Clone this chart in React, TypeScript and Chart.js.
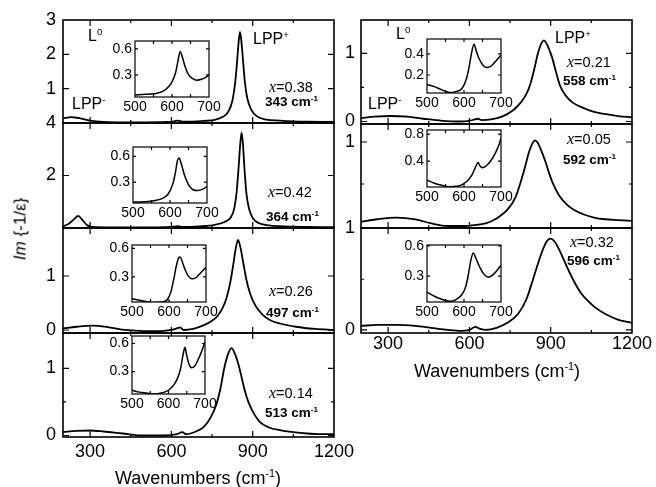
import React, { useEffect, useRef } from "react";
import { Chart, registerables } from "chart.js";
Chart.register(...registerables);

const SANS = "'Liberation Sans', Arial, Helvetica, sans-serif";
const SERIF = "'Liberation Serif', 'Times New Roman', serif";

// ---------- main spectra (Im{-1/eps} vs wavenumber) ----------
const l1X = [200, 230, 260, 300, 350, 400, 500, 580, 610, 625, 640, 680, 720, 760, 790, 810, 825, 835, 842, 848, 853, 858, 864, 871, 880, 895, 915, 950, 1000, 1050, 1100, 1200];
const l1Y = [0.13, 0.17, 0.14, 0.07, 0.03, 0.02, 0.02, 0.03, 0.05, 0.07, 0.04, 0.04, 0.06, 0.09, 0.18, 0.33, 0.65, 1.15, 1.75, 2.35, 2.65, 2.4, 1.85, 1.2, 0.72, 0.38, 0.2, 0.1, 0.07, 0.05, 0.04, 0.03];

const l2X = [200, 220, 240, 256, 272, 290, 320, 400, 500, 580, 610, 625, 640, 700, 760, 800, 820, 832, 841, 848, 854, 859, 864, 870, 877, 886, 900, 920, 960, 1000, 1100, 1200];
const l2Y = [0.07, 0.15, 0.33, 0.46, 0.3, 0.1, 0.03, 0.02, 0.02, 0.03, 0.05, 0.07, 0.04, 0.06, 0.12, 0.25, 0.42, 0.75, 1.4, 2.3, 3.2, 3.63, 3.2, 2.2, 1.3, 0.75, 0.38, 0.2, 0.1, 0.07, 0.04, 0.03];

const l3X = [200, 250, 310, 370, 430, 500, 560, 600, 620, 632, 645, 680, 720, 750, 770, 790, 805, 818, 828, 837, 846, 855, 865, 876, 890, 910, 935, 965, 1000, 1060, 1130, 1200];
const l3Y = [0.03, 0.06, 0.08, 0.05, 0.0, -0.02, -0.02, 0.0, 0.03, 0.05, 0.0, 0.02, 0.09, 0.17, 0.26, 0.42, 0.62, 0.9, 1.2, 1.5, 1.67, 1.52, 1.25, 0.95, 0.68, 0.45, 0.29, 0.18, 0.12, 0.06, 0.02, 0.0];

const l4X = [200, 250, 300, 350, 420, 500, 570, 620, 640, 655, 690, 720, 745, 765, 780, 795, 808, 822, 836, 848, 860, 872, 884, 900, 927, 960, 1000, 1050, 1100, 1150, 1200];
const l4Y = [0.05, 0.07, 0.075, 0.06, 0.03, 0.0, 0.0, 0.02, 0.05, 0.02, 0.06, 0.13, 0.27, 0.45, 0.68, 1.0, 1.2, 1.3, 1.2, 1.05, 0.85, 0.65, 0.5, 0.36, 0.2, 0.12, 0.08, 0.05, 0.03, 0.02, 0.02];

const r1X = [200, 250, 310, 370, 430, 500, 560, 600, 620, 632, 645, 680, 720, 760, 790, 810, 825, 840, 853, 865, 875, 885, 895, 905, 920, 935, 955, 980, 1020, 1060, 1100, 1150, 1200];
const r1Y = [0.05, 0.07, 0.08, 0.07, 0.04, 0.01, 0.0, 0.01, 0.03, 0.04, 0.02, 0.03, 0.07, 0.16, 0.28, 0.4, 0.55, 0.78, 1.0, 1.14, 1.19, 1.14, 1.05, 0.94, 0.72, 0.52, 0.38, 0.28, 0.2, 0.14, 0.11, 0.08, 0.06];

const r2X = [200, 260, 330, 400, 460, 520, 580, 620, 640, 660, 700, 742, 770, 787, 805, 820, 832, 842, 852, 865, 880, 895, 909, 930, 955, 982, 1020, 1060, 1100, 1150, 1200];
const r2Y = [0.05, 0.08, 0.1, 0.08, 0.03, 0.0, 0.0, 0.01, 0.02, 0.03, 0.09, 0.2, 0.34, 0.5, 0.7, 0.88, 0.98, 1.02, 0.99, 0.9, 0.77, 0.62, 0.5, 0.37, 0.27, 0.2, 0.14, 0.1, 0.08, 0.07, 0.06];

const r3X = [200, 260, 330, 400, 460, 520, 570, 600, 622, 640, 660, 700, 740, 780, 810, 835, 855, 872, 887, 900, 915, 930, 950, 982, 1010, 1040, 1070, 1100, 1150, 1200];
const r3Y = [0.04, 0.05, 0.05, 0.04, 0.02, 0.0, -0.01, 0.0, 0.03, 0.01, 0.0, 0.02, 0.07, 0.16, 0.3, 0.5, 0.67, 0.8, 0.88, 0.9, 0.87, 0.8, 0.68, 0.5, 0.37, 0.28, 0.21, 0.16, 0.1, 0.07];

// ---------- insets (L0 region, 500-700 cm-1) ----------
const il1X = [500, 520, 540, 560, 575, 590, 600, 610, 617, 622, 627, 635, 645, 655, 667, 680, 690, 700];
const il1Y = [0.07, 0.075, 0.08, 0.09, 0.11, 0.16, 0.22, 0.33, 0.48, 0.57, 0.52, 0.4, 0.3, 0.26, 0.24, 0.25, 0.27, 0.3];
const il2X = [500, 530, 560, 580, 595, 607, 615, 620, 625, 630, 640, 650, 662, 675, 690, 700];
const il2Y = [0.065, 0.07, 0.085, 0.11, 0.16, 0.27, 0.42, 0.55, 0.58, 0.52, 0.37, 0.27, 0.21, 0.2, 0.22, 0.25];
const il3X = [500, 520, 540, 560, 580, 595, 605, 613, 620, 626, 630, 635, 643, 652, 662, 672, 685, 700];
const il3Y = [0.07, 0.055, 0.04, 0.03, 0.035, 0.06, 0.14, 0.28, 0.42, 0.5, 0.51, 0.47, 0.38, 0.31, 0.28, 0.29, 0.34, 0.4];
const il4X = [500, 520, 540, 560, 580, 600, 615, 625, 633, 640, 645, 650, 656, 663, 672, 685, 695, 700];
const il4Y = [0.1, 0.08, 0.07, 0.06, 0.07, 0.1, 0.16, 0.23, 0.33, 0.48, 0.56, 0.47, 0.38, 0.34, 0.36, 0.46, 0.56, 0.62];
const ir1X = [500, 520, 540, 555, 567, 580, 594, 607, 614, 620, 627, 633, 640, 652, 663, 675, 688, 700];
const ir1Y = [0.11, 0.09, 0.06, 0.04, 0.035, 0.045, 0.07, 0.17, 0.28, 0.4, 0.49, 0.43, 0.36, 0.29, 0.27, 0.29, 0.34, 0.39];
const ir2X = [500, 520, 540, 560, 580, 595, 610, 622, 632, 638, 643, 650, 660, 672, 685, 695, 700];
const ir2Y = [0.12, 0.07, 0.04, 0.02, 0.025, 0.05, 0.11, 0.2, 0.32, 0.38, 0.33, 0.3, 0.33, 0.4, 0.52, 0.65, 0.74];
const ir3X = [500, 520, 540, 562, 580, 595, 605, 612, 618, 625, 632, 640, 652, 666, 680, 692, 700];
const ir3Y = [0.14, 0.1, 0.07, 0.05, 0.07, 0.12, 0.2, 0.32, 0.45, 0.53, 0.48, 0.41, 0.33, 0.29, 0.32, 0.37, 0.41];

// ---------- tick labels ----------
const mainXTicks = [300, 600, 900, 1200];
const mainXMinor = [450, 750, 1050];
const insetXTicks = [500, 600, 700];
const insetXMinor = [550, 650];

// ---------- annotations ----------
const compositions = ["0.38", "0.42", "0.26", "0.14", "0.21", "0.05", "0.32"];
const plasmaFreqs = ["343", "364", "497", "513", "558", "592", "596"];

type PanelProps = {
  box: number[]; // chart area: left, top, width, height
  xr: number[];
  yr: number[];
  xs: number[];
  ys: number[];
  yLabels: number[];
  yMinor: number[];
  xLabels: number[] | null;
  xMajor: number[];
  xMinor: number[];
  font: number;
  pad: number[]; // l t r b
  yPad: number;
  xPad: number;
  tick: number;
  minor: number;
  lw: number;
  fw: number;
  fill?: boolean;
};

function Panel(p: PanelProps) {
  const ref = useRef<HTMLCanvasElement>(null);
  const [L, T, W, H] = p.box;
  const [pl, pt, pr, pb] = p.pad;
  useEffect(() => {
    const framePlugin = {
      id: "frame",
      beforeDraw(chart: any) {
        if (!p.fill) return;
        const a = chart.chartArea;
        const c = chart.ctx;
        c.save();
        c.fillStyle = "#fff";
        c.fillRect(a.left, a.top, a.right - a.left, a.bottom - a.top);
        c.restore();
      },
      afterDatasetsDraw(chart: any) {
        const a = chart.chartArea;
        const c = chart.ctx;
        const sx = chart.scales.x;
        const sy = chart.scales.y;
        c.save();
        c.strokeStyle = "#000";
        c.lineWidth = p.fw;
        c.strokeRect(a.left, a.top, a.right - a.left, a.bottom - a.top);
        c.lineWidth = 1.2;
        c.beginPath();
        const xt = (vals: number[], len: number) => {
          vals.forEach((v) => {
            if (v <= p.xr[0] || v >= p.xr[1]) return;
            const px = sx.getPixelForValue(v);
            c.moveTo(px, a.bottom);
            c.lineTo(px, a.bottom - len);
            c.moveTo(px, a.top);
            c.lineTo(px, a.top + len);
          });
        };
        const yt = (vals: number[], len: number) => {
          vals.forEach((v) => {
            if (v <= p.yr[0] || v >= p.yr[1]) return;
            const py = sy.getPixelForValue(v);
            c.moveTo(a.left, py);
            c.lineTo(a.left + len, py);
            c.moveTo(a.right, py);
            c.lineTo(a.right - len, py);
          });
        };
        xt(p.xMajor, p.tick);
        xt(p.xMinor, p.minor);
        yt(p.yLabels, p.tick);
        yt(p.yMinor, p.minor);
        c.stroke();
        c.restore();
      },
    };
    const showX = !!p.xLabels;
    const chart = new Chart(ref.current as HTMLCanvasElement, {
      type: "line",
      data: {
        datasets: [
          {
            data: p.xs.map((x, i) => ({ x, y: p.ys[i] })),
            borderColor: "#000",
            borderWidth: p.lw,
            pointRadius: 0,
            fill: false,
            cubicInterpolationMode: "monotone",
          },
        ],
      },
      options: {
        animation: false,
        responsive: false,
        devicePixelRatio: 1,
        events: [],
        layout: {
          autoPadding: false,
          padding: { left: 0, top: pt, right: pr, bottom: showX ? 0 : pb },
        },
        plugins: { legend: { display: false }, tooltip: { enabled: false } },
        scales: {
          x: {
            type: "linear",
            min: p.xr[0],
            max: p.xr[1],
            display: showX,
            position: "bottom",
            afterFit: (s: any) => {
              if (showX) s.height = pb;
            },
            afterBuildTicks: (s: any) => {
              s.ticks = (p.xLabels || []).map((v) => ({ value: v }));
            },
            ticks: {
              font: { family: SANS, size: p.font },
              color: "#000",
              padding: p.xPad,
              maxRotation: 0,
              autoSkip: false,
              callback: (v: any) => String(v),
            },
            grid: { display: false, drawTicks: false },
            border: { display: false },
          },
          y: {
            type: "linear",
            min: p.yr[0],
            max: p.yr[1],
            position: "left",
            afterFit: (s: any) => {
              s.width = pl;
            },
            afterBuildTicks: (s: any) => {
              s.ticks = p.yLabels.map((v) => ({ value: v }));
            },
            ticks: {
              font: { family: SANS, size: p.font },
              color: "#000",
              padding: p.yPad,
              autoSkip: false,
              callback: (v: any) => String(v),
            },
            grid: { display: false, drawTicks: false },
            border: { display: false },
          },
        },
      } as any,
      plugins: [framePlugin],
    });
    return () => chart.destroy();
  }, []);
  return (
    <canvas
      ref={ref}
      width={W + pl + pr}
      height={H + pt + pb}
      style={{ position: "absolute", left: L - pl, top: T - pt }}
    />
  );
}

const Sup = ({ children }: { children: any }) => (
  <span style={{ fontSize: "0.6em", position: "relative", top: "-0.65em" }}>{children}</span>
);

const Note = ({ left, top, size, bold, children }: any) => (
  <div
    style={{
      position: "absolute",
      left,
      top,
      fontSize: size,
      lineHeight: 1,
      fontFamily: SANS,
      fontWeight: bold ? "bold" : "normal",
      whiteSpace: "nowrap",
      color: "#000",
    }}
  >
    {children}
  </div>
);

const XLabel = ({ left, top, val }: any) => (
  <Note left={left} top={top} size={14.5}>
    <span style={{ fontFamily: SERIF, fontStyle: "italic", fontSize: "1.1em" }}>x</span>={val}
  </Note>
);

const FLabel = ({ left, top, val }: any) => (
  <Note left={left} top={top} size={13.5} bold>
    {val} cm<Sup>-1</Sup>
  </Note>
);

export default function App() {
  const main = { font: 18, tick: 6, minor: 3, lw: 1.8, fw: 1.6, xMajor: [300, 600, 900], xMinor: mainXMinor };
  const ins = { font: 14, tick: 3, minor: 3, lw: 1.5, fw: 1.2, xMajor: insetXMinor, xMinor: [600], xr: [500, 700], xLabels: insetXTicks, pad: [30, 14, 14, 22], yPad: 3, xPad: 2, yMinor: [], fill: true };
  const lp = [45, 20, 26, 20];
  const rp = [30, 20, 26, 20];
  return (
    <div style={{ position: "fixed", left: 0, top: 0, width: 656, height: 487, background: "#fff", overflow: "hidden" }}>
      {/* left column */}
      <Panel {...main} box={[63, 20, 271, 103]} xr={[200, 1200]} yr={[0, 3]} xs={l1X} ys={l1Y} yLabels={[1, 2, 3]} yMinor={[]} xLabels={null} pad={lp} yPad={7} xPad={4} />
      <Panel {...main} box={[63, 123, 271, 105]} xr={[200, 1200]} yr={[0, 4]} xs={l2X} ys={l2Y} yLabels={[2, 4]} yMinor={[]} xLabels={null} pad={lp} yPad={7} xPad={4} />
      <Panel {...main} box={[63, 228, 271, 105]} xr={[200, 1200]} yr={[-0.056, 1.889]} xs={l3X} ys={l3Y} yLabels={[0, 1]} yMinor={[]} xLabels={null} pad={lp} yPad={7} xPad={4} />
      <Panel {...main} box={[63, 333, 271, 104]} xr={[200, 1200]} yr={[-0.022, 1.525]} xs={l4X} ys={l4Y} yLabels={[0, 1]} yMinor={[0.5]} xLabels={mainXTicks} pad={[45, 20, 26, 30]} yPad={7} xPad={4} />
      {/* right column */}
      <Panel {...main} box={[361, 20, 271, 104]} xr={[200, 1200]} yr={[-0.037, 1.488]} xs={r1X} ys={r1Y} yLabels={[0, 1]} yMinor={[0.5]} xLabels={null} pad={rp} yPad={6} xPad={0} />
      <Panel {...main} box={[361, 124, 271, 104]} xr={[200, 1200]} yr={[-0.024, 1.214]} xs={r2X} ys={r2Y} yLabels={[1]} yMinor={[0.5]} xLabels={null} pad={rp} yPad={6} xPad={0} />
      <Panel {...main} box={[361, 228, 271, 105]} xr={[200, 1200]} yr={[-0.03, 1.005]} xs={r3X} ys={r3Y} yLabels={[0, 1]} yMinor={[0.5]} xLabels={mainXTicks} pad={[30, 20, 26, 30]} yPad={6} xPad={0} />
      {/* insets */}
      <Panel {...ins} box={[135, 41, 74, 56]} yr={[0.046, 0.69]} xs={il1X} ys={il1Y} yLabels={[0.3, 0.6]} />
      <Panel {...ins} box={[133, 147, 74, 56]} yr={[0.055, 0.71]} xs={il2X} ys={il2Y} yLabels={[0.3, 0.6]} />
      <Panel {...ins} box={[132, 245, 74, 57]} yr={[0.036, 0.635]} xs={il3X} ys={il3Y} yLabels={[0.3, 0.6]} />
      <Panel {...ins} box={[132, 336, 73, 58]} yr={[0.06, 0.68]} xs={il4X} ys={il4Y} yLabels={[0.3, 0.6]} />
      <Panel {...ins} box={[427, 39, 74, 54]} yr={[0.03, 0.54]} xs={ir1X} ys={ir1Y} yLabels={[0.2, 0.4]} />
      <Panel {...ins} box={[427, 130, 74, 57]} yr={[0.015, 0.86]} xs={ir2X} ys={ir2Y} yLabels={[0.4, 0.8]} />
      <Panel {...ins} box={[427, 245, 74, 57]} yr={[0.043, 0.61]} xs={ir3X} ys={ir3Y} yLabels={[0.3, 0.6]} />

      {/* annotations */}
      <Note left={88} top={28} size={16}>L<Sup>0</Sup></Note>
      <Note left={253} top={31} size={16}>LPP<Sup>+</Sup></Note>
      <Note left={72} top={96} size={16}>LPP<Sup>-</Sup></Note>
      <Note left={396} top={26} size={16}>L<Sup>0</Sup></Note>
      <Note left={555} top={30} size={16}>LPP<Sup>+</Sup></Note>
      <Note left={368} top={96} size={16}>LPP<Sup>-</Sup></Note>

      <XLabel left={269} top={79} val={compositions[0]} />
      <FLabel left={265} top={95} val={plasmaFreqs[0]} />
      <XLabel left={268} top={184} val={compositions[1]} />
      <FLabel left={266} top={210} val={plasmaFreqs[1]} />
      <XLabel left={269} top={283} val={compositions[2]} />
      <FLabel left={266} top={306} val={plasmaFreqs[2]} />
      <XLabel left={269} top={385} val={compositions[3]} />
      <FLabel left={265} top={406} val={plasmaFreqs[3]} />
      <XLabel left={567} top={54} val={compositions[4]} />
      <FLabel left={563} top={74} val={plasmaFreqs[4]} />
      <XLabel left={567} top={131} val={compositions[5]} />
      <FLabel left={563} top={153} val={plasmaFreqs[5]} />
      <XLabel left={570} top={234} val={compositions[6]} />
      <FLabel left={567} top={254} val={plasmaFreqs[6]} />

      {/* axis titles */}
      <div style={{ position: "absolute", left: 198, top: 469, transform: "translateX(-50%)", fontFamily: SANS, fontSize: 18, lineHeight: 1, whiteSpace: "nowrap" }}>
        Wavenumbers (cm<Sup>-1</Sup>)
      </div>
      <div style={{ position: "absolute", left: 497, top: 362, transform: "translateX(-50%)", fontFamily: SANS, fontSize: 18, lineHeight: 1, whiteSpace: "nowrap" }}>
        Wavenumbers (cm<Sup>-1</Sup>)
      </div>
      <div style={{ position: "absolute", left: 20, top: 229, transform: "translate(-50%, -50%) rotate(-90deg)", fontFamily: SANS, fontSize: 17, lineHeight: 1, whiteSpace: "nowrap" }}>
        <span style={{ fontStyle: "italic" }}>Im</span> {"{-1/ε}"}
      </div>
    </div>
  );
}
